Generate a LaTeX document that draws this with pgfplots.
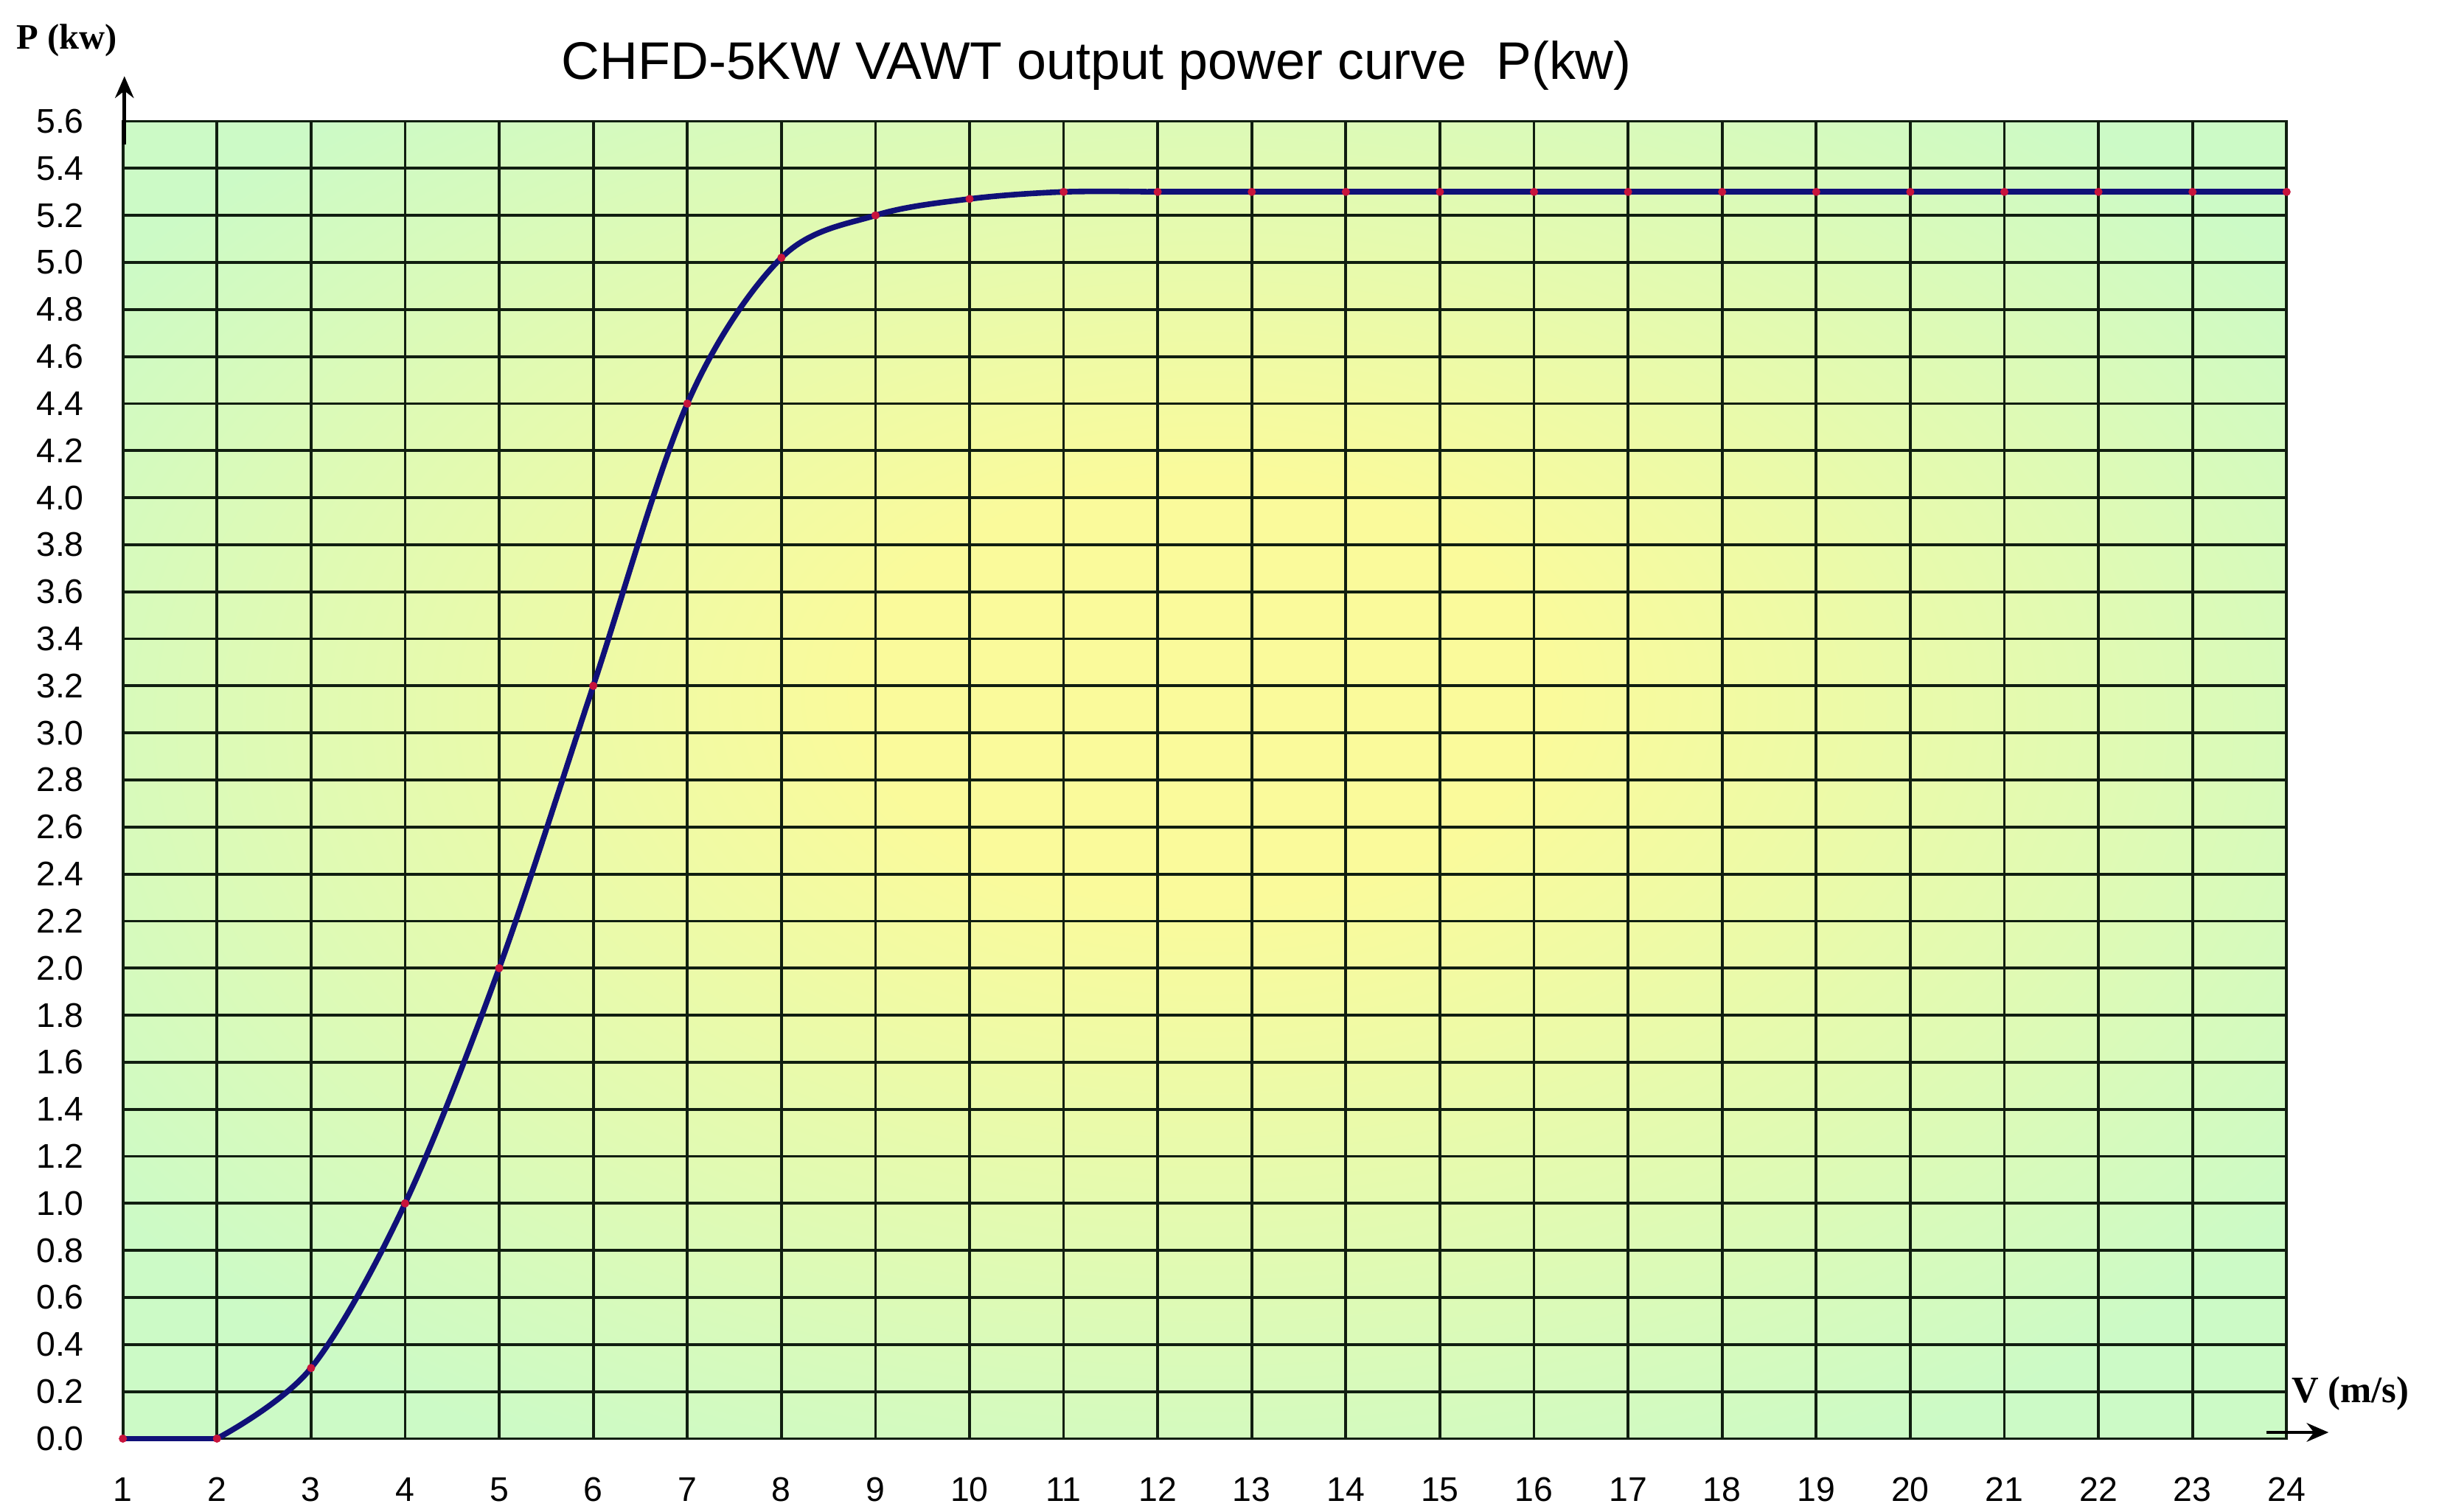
\documentclass[border=0pt]{standalone}
\usepackage{pgfplots}
\pgfplotsset{compat=1.18}
\usepackage{fontspec}
\setmainfont{Liberation Sans}
\newfontfamily\serifb{Liberation Serif}
\usetikzlibrary{arrows.meta}
\definecolor{cG}{RGB}{204,250,198}
\definecolor{cY}{RGB}{250,250,155}
\definecolor{gridc}{RGB}{16,30,16}
\definecolor{curvec}{RGB}{16,16,120}
\definecolor{mk}{RGB}{200,20,60}
\pgfdeclareradialshading{bgshade}{\pgfpoint{0bp}{4bp}}{color(0bp)=(cY); color(8bp)=(cY); color(31bp)=(cG); color(50bp)=(cG)}
\begin{document}
\begin{tikzpicture}
\begin{axis}[
  at={(0pt,0pt)}, anchor=south west,
  scale only axis, width=695.5pt, height=423.5pt,
  xmin=1, xmax=24, ymin=0, ymax=5.6,
  xtick distance=1, ytick distance=0.2,
  yticklabel style={/pgf/number format/fixed, /pgf/number format/fixed zerofill, /pgf/number format/precision=1},
  grid=major,
  major grid style={gridc, line width=0.9pt},
  axis line style={gridc, line width=0.9pt},
  major tick length=0pt,
  tick label style={font=\fontsize{11}{13}\selectfont},
  /pgf/number format/assume math mode=true,
  xticklabel style={yshift=-9pt},
  yticklabel style={xshift=-9pt},
  axis background/.style={shade, shading=bgshade},
  clip=false,
]
\addplot[curvec, line width=1.8pt] coordinates {(1,0) (2,0)};
\addplot[curvec, line width=1.8pt, smooth, tension=0.55] coordinates {
(2,0) (3,0.3) (4,1.0) (5,2.0) (6,3.2) (7,4.4) (8,5.02) (9,5.2) (10,5.27) (11,5.3) (12,5.3)};
\addplot[curvec, line width=1.8pt] coordinates {
(11.9,5.3) (12,5.3) (13,5.3) (14,5.3) (15,5.3) (16,5.3) (17,5.3) (18,5.3) (19,5.3) (20,5.3)
(21,5.3) (22,5.3) (23,5.3) (24,5.3)};
\addplot[only marks, mark=*, mark size=1.1pt, mk] coordinates {
(1,0) (2,0) (3,0.3) (4,1.0) (5,2.0) (6,3.2) (7,4.4) (8,5.02) (9,5.2) (10,5.27) (11,5.3)
(12,5.3) (13,5.3) (14,5.3) (15,5.3) (16,5.3) (17,5.3) (18,5.3) (19,5.3) (20,5.3)
(21,5.3) (22,5.3) (23,5.3) (24,5.3)};
\end{axis}
\node[font=\fontsize{17}{20}\selectfont] at (313pt,441.5pt) {CHFD-5KW VAWT output power curve\ \ P(kw)};
\node[font=\serifb\bfseries\fontsize{11.5}{13}\selectfont] at (-18pt,449.5pt) {P (kw)};
\node[font=\serifb\bfseries\fontsize{12}{14}\selectfont] at (716pt,14.5pt) {V (m/s)};
\draw[black, line width=1.1pt, -{Stealth[length=7pt,width=6pt]}] (0.5pt,416pt) -- (0.5pt,438pt);
\draw[black, line width=1.1pt, -{Stealth[length=7pt,width=6pt]}] (689pt,2pt) -- (709pt,2pt);
\pgfresetboundingbox
\useasboundingbox (-39.5pt,-23.5pt) rectangle (744.5pt,462.5pt);
\end{tikzpicture}
\end{document}
